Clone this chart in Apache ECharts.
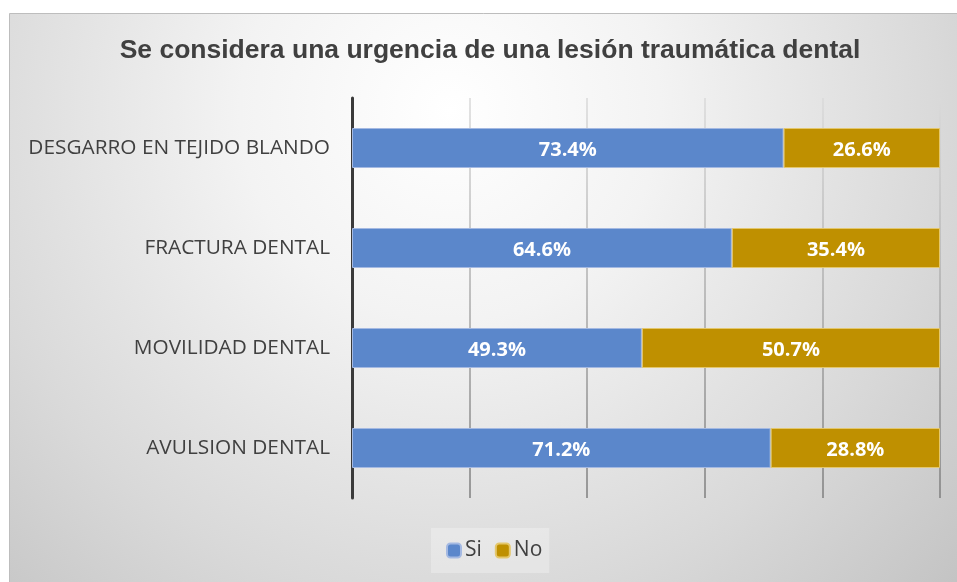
<!DOCTYPE html>
<html>
<head>
<meta charset="utf-8">
<script src="https://cdn.jsdelivr.net/npm/echarts@6/dist/echarts.min.js"></script>
<style>
html,body{margin:0;padding:0;background:#ffffff;}
#chart{width:957px;height:582px;}
</style>
</head>
<body>
<div id="chart"></div>
<script>
const titleText = 'Se considera una urgencia de una lesión traumática dental';
const categories = ['DESGARRO EN TEJIDO BLANDO', 'FRACTURA DENTAL', 'MOVILIDAD DENTAL', 'AVULSION DENTAL'];
const siValues = [73.4, 64.6, 49.3, 71.2];
const noValues = [26.6, 35.4, 50.7, 28.8];
const seriesNames = ['Si', 'No'];
const xTicks = [0, 20, 40, 60, 80, 100];

const chart = echarts.init(document.getElementById('chart'), null, {renderer: 'canvas'});

const labelStyle = {
  show: true,
  position: 'inside',
  color: '#ffffff',
  fontFamily: 'Open Sans',
  fontWeight: 'bold',
  fontSize: 20,
  offset: [0, 2],
  formatter: p => p.value.toFixed(1) + '%'
};

const option = {
  animation: false,
  backgroundColor: '#ffffff',
  graphic: [{
    type: 'rect',
    z: -10,
    silent: true,
    shape: {x: 9.5, y: 13.5, width: 950, height: 570},
    style: {
      fill: new echarts.graphic.RadialGradient(450, 110, 700, [
        {offset: 0, color: '#ffffff'},
        {offset: 0.3, color: '#f3f3f3'},
        {offset: 0.7, color: '#d9d9d9'},
        {offset: 1, color: '#c3c3c3'}
      ], true),
      stroke: '#bdbdbd',
      lineWidth: 1
    }
  }],
  title: {
    text: titleText,
    left: 485,
    top: 32,
    textAlign: 'center',
    textStyle: {
      fontFamily: 'Liberation Sans',
      fontWeight: 'bold',
      fontSize: 26.5,
      color: '#404040'
    }
  },
  legend: {
    data: seriesNames,
    left: 431,
    top: 528,
    itemWidth: 14,
    itemHeight: 14,
    itemGap: 13,
    padding: [12, 7, 12, 15],
    backgroundColor: 'rgba(255,255,255,0.28)',
    textStyle: {
      fontFamily: 'Open Sans',
      fontSize: 21,
      color: '#404040',
      padding: [0, 0, 0, -1]
    }
  },
  grid: {
    left: 352,
    right: 17,
    top: 98,
    bottom: 84,
    containLabel: false
  },
  xAxis: {
    type: 'value',
    min: xTicks[0],
    max: xTicks[xTicks.length - 1],
    interval: xTicks[1] - xTicks[0],
    axisLabel: {show: false},
    axisLine: {show: false},
    axisTick: {show: false},
    splitLine: {
      show: true,
      lineStyle: {
        width: 1.5,
        color: new echarts.graphic.LinearGradient(0, 98, 0, 498, [
          {offset: 0, color: '#dadada'},
          {offset: 1, color: '#7e7e7e'}
        ], true)
      }
    }
  },
  yAxis: {
    type: 'category',
    data: categories,
    inverse: true,
    axisLine: {show: true, lineStyle: {color: '#3a3a3a', width: 3}},
    axisTick: {show: false},
    axisLabel: {
      margin: 22,
      fontFamily: 'Open Sans',
      fontSize: 20.8,
      color: '#404040'
    }
  },
  series: [
    {
      name: seriesNames[0],
      type: 'bar',
      stack: 'total',
      barWidth: 40,
      data: siValues,
      itemStyle: {color: '#5b87cb', borderColor: '#a4b9e2', borderWidth: 1},
      label: labelStyle
    },
    {
      name: seriesNames[1],
      type: 'bar',
      stack: 'total',
      barWidth: 40,
      data: noValues,
      itemStyle: {color: '#bf9000', borderColor: '#e4c76c', borderWidth: 1},
      label: labelStyle
    }
  ]
};
chart.setOption(option);
</script>
</body>
</html>
